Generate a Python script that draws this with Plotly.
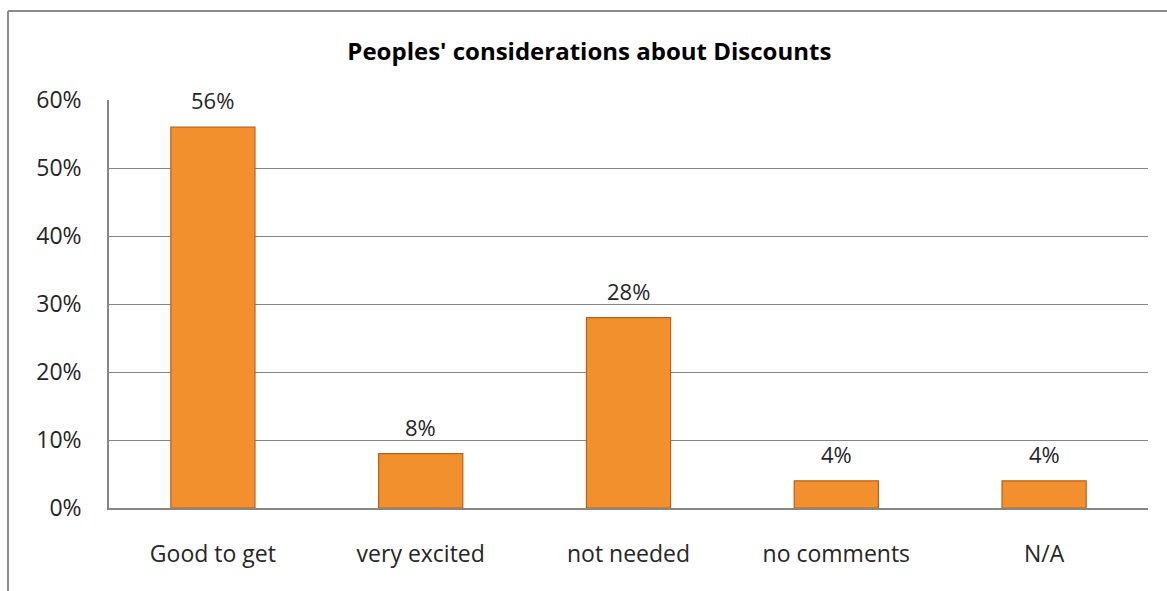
import plotly.graph_objects as go

categories = ["Good to get", "very excited", "not needed", "no comments", "N/A"]
shares = [56, 8, 28, 4, 4]
value_labels = ["56%", "8%", "28%", "4%", "4%"]
y_ticks = [0, 10, 20, 30, 40, 50, 60]
y_tick_labels = ["0%", "10%", "20%", "30%", "40%", "50%", "60%"]

FONT = "'Open Sans', Lato, sans-serif"
TEXT_COLOR = "#262626"

fig = go.Figure()
fig.add_trace(go.Bar(
    x=categories,
    y=shares,
    width=0.405,
    marker=dict(color="#F3902E", line=dict(color="#B8621D", width=1.2)),
    hoverinfo="skip",
))

# value labels floating above each bar
for cat, val, lab in zip(categories, shares, value_labels):
    fig.add_annotation(
        x=cat, y=val, text=lab, showarrow=False,
        yanchor="bottom", yshift=10,
        font=dict(family=FONT, size=22, color=TEXT_COLOR),
    )

# chart-area frame (left and top edges)
fig.add_shape(type="line", xref="paper", yref="paper",
              x0=-0.0972, x1=-0.0972, y0=1.218, y1=-0.35,
              line=dict(color="#8C8C8C", width=2))
fig.add_shape(type="line", xref="paper", yref="paper",
              x0=-0.0972, x1=1.05, y0=1.218, y1=1.218,
              line=dict(color="#8C8C8C", width=2))

fig.update_layout(
    width=1167, height=591,
    margin=dict(l=109, r=19, t=100, b=83),
    paper_bgcolor="white", plot_bgcolor="white",
    showlegend=False,
    title=dict(text="<b>Peoples' considerations about Discounts</b>",
               x=0.505, xanchor="center", y=0.912, yanchor="middle",
               font=dict(family=FONT, size=24, color="#000000")),
    font=dict(family=FONT, size=22, color=TEXT_COLOR),
)
fig.update_xaxes(
    showgrid=False, showline=True, linecolor="#868686", linewidth=1.5,
    ticks="", ticklabelstandoff=25,
    tickfont=dict(family=FONT, size=23, color=TEXT_COLOR),
)
fig.update_yaxes(
    range=[0, 60], tickvals=y_ticks, ticktext=y_tick_labels,
    showgrid=True, gridcolor="#868686", gridwidth=1.2,
    showline=True, linecolor="#868686", linewidth=1.5,
    zeroline=False, ticks="", ticklabelstandoff=21,
    tickfont=dict(family=FONT, size=23, color=TEXT_COLOR),
)

fig.write_html("out.html")
